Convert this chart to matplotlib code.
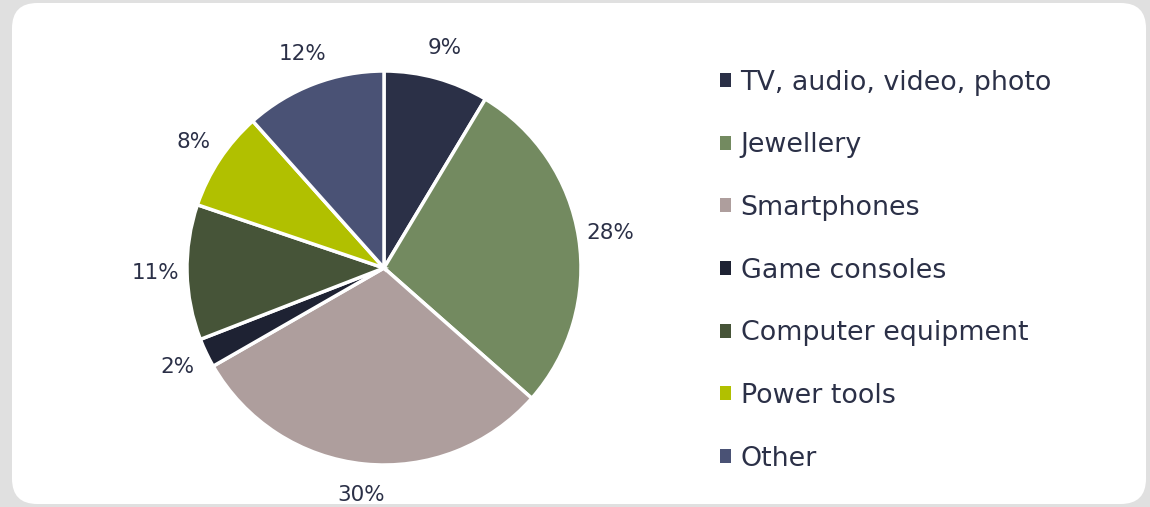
import matplotlib.pyplot as plt
from matplotlib.patches import FancyBboxPatch, Patch

categories = ["TV, audio, video, photo", "Jewellery", "Smartphones", "Game consoles",
              "Computer equipment", "Power tools", "Other"]
shares = [8.6, 27.9, 30.2, 2.4, 11.1, 8.2, 11.6]
colors = ["#2b3047", "#738a60", "#ae9e9d", "#1e2233", "#465438", "#b1c000", "#4a5275"]
text_color = "#2b3047"

W, H = 1150, 507
fig = plt.figure(figsize=(W / 100, H / 100), dpi=100)
fig.patch.set_facecolor("#e0e0e0")

# white rounded card behind everything
card = FancyBboxPatch((12 / W, 3 / H), 1134 / W, 501 / H,
                      boxstyle="round,pad=0,rounding_size=0.022",
                      transform=fig.transFigure, facecolor="white",
                      edgecolor="none", mutation_aspect=W / H, zorder=-10)
fig.patches.append(card)

cx, cy, r = 384, H - 268, 197
ax = fig.add_axes([(cx - r) / W, (cy - r) / H, 2 * r / W, 2 * r / H])
ax.set_zorder(5)
wedges, texts, autotexts = ax.pie(
    shares, colors=colors, startangle=90, counterclock=False, radius=1,
    autopct=lambda p: "{:.0f}%".format(p), pctdistance=1.16,
    wedgeprops=dict(edgecolor="white", linewidth=2.5),
    textprops=dict(color=text_color, fontsize=15.5, family="DejaVu Sans"))
for t in autotexts:
    t.set_clip_on(False)
ax.set_xlim(-1, 1)
ax.set_ylim(-1, 1)
ax.set_aspect("equal")
ax.axis("off")

handles = [Patch(facecolor=c, edgecolor="none") for c in colors]
leg = fig.legend(handles, categories, loc="upper left",
                 bbox_to_anchor=(709 / W, 1 - 59 / H), frameon=False,
                 fontsize=19.4, handlelength=0.42, handleheight=0.42,
                 handletextpad=0.35, labelspacing=1.36, borderaxespad=0)
for t in leg.get_texts():
    t.set_color(text_color)

fig.savefig("out.png", dpi=100, facecolor=fig.get_facecolor())
